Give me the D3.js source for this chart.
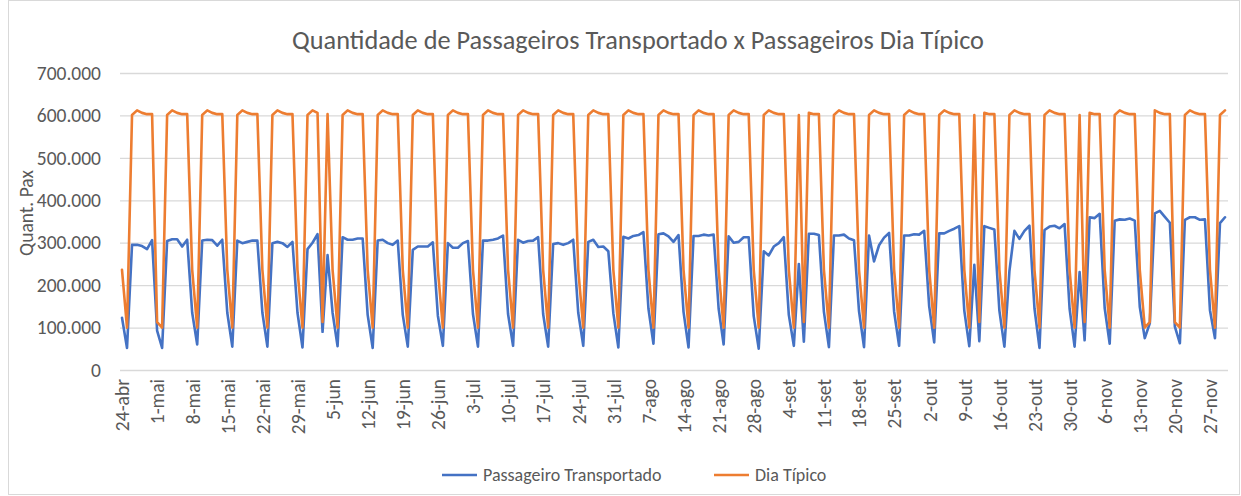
<!DOCTYPE html>
<html>
<head>
<meta charset="utf-8">
<script src="https://cdn.jsdelivr.net/npm/d3@7"></script>
<style>
  body { margin: 0; background: #fff; }
  text { font-family: Carlito, Lato, "Open Sans", sans-serif; fill: #595959; }
</style>
</head>
<body>
<div id="chart"></div>
<script>
// dias de 24-abr a 30-nov (221 pontos)
var startDay = Date.UTC(2021, 3, 24);
var dayCount = 221;

var tickLabels = ["24-abr","1-mai","8-mai","15-mai","22-mai","29-mai","5-jun","12-jun","19-jun","26-jun",
  "3-jul","10-jul","17-jul","24-jul","31-jul","7-ago","14-ago","21-ago","28-ago","4-set","11-set",
  "18-set","25-set","2-out","9-out","16-out","23-out","30-out","6-nov","13-nov","20-nov","27-nov"];
var yTicks = [0, 100000, 200000, 300000, 400000, 500000, 600000, 700000];

// Passageiro Transportado
var transportado = [
  123000, 52000,
  295000, 295000, 292000, 285000, 306000, 93000, 52000,
  304000, 308000, 308000, 291000, 307000, 135000, 60000,
  305000, 307000, 306000, 293000, 307000, 135000, 55000,
  305000, 299000, 302000, 305000, 305000, 135000, 55000,
  299000, 302000, 299000, 290000, 302000, 135000, 53000,
  285000, 300000, 320000, 90000, 271000, 135000, 56000,
  313000, 307000, 307000, 310000, 310000, 130000, 52000,
  305000, 307000, 299000, 295000, 305000, 130000, 55000,
  283000, 291000, 291000, 291000, 301000, 128000, 57000,
  299000, 288000, 288000, 299000, 304000, 132000, 55000,
  305000, 305000, 307000, 310000, 317000, 132000, 57000,
  307000, 300000, 304000, 305000, 313000, 132000, 55000,
  297000, 299000, 295000, 299000, 307000, 135000, 57000,
  302000, 307000, 290000, 291000, 280000, 134000, 53000,
  314000, 310000, 316000, 318000, 325000, 145000, 62000,
  320000, 322000, 315000, 302000, 318000, 137000, 53000,
  316000, 316000, 319000, 317000, 319000, 145000, 60000,
  315000, 300000, 302000, 313000, 313000, 127000, 50000,
  280000, 270000, 291000, 299000, 313000, 130000, 57000,
  250000, 67000, 321000, 321000, 318000, 137000, 54000,
  317000, 317000, 319000, 310000, 306000, 139000, 54000,
  317000, 256000, 294000, 312000, 323000, 138000, 57000,
  317000, 317000, 320000, 319000, 328000, 150000, 65000,
  322000, 322000, 328000, 333000, 339000, 140000, 56000,
  248000, 68000, 339000, 335000, 331000, 140000, 55000,
  233000, 328000, 309000, 328000, 340000, 145000, 52000,
  330000, 338000, 340000, 334000, 344000, 145000, 55000,
  231000, 70000, 360000, 358000, 368000, 146000, 62000,
  352000, 355000, 354000, 357000, 352000, 149000, 75000,
  110000, 369000, 375000, 361000, 347000, 102000, 63000,
  354000, 360000, 360000, 354000, 355000, 141000, 75000,
  346000, 360000
];

// Dia Típico
var diaTipico = [
  236000, 100000,
  601000, 612000, 606000, 603000, 603000, 113000, 100000,
  601000, 612000, 606000, 603000, 603000, 236000, 100000,
  601000, 612000, 606000, 603000, 603000, 236000, 100000,
  601000, 612000, 606000, 603000, 603000, 236000, 100000,
  601000, 612000, 606000, 603000, 603000, 236000, 100000,
  601000, 612000, 606000, 113000, 603000, 236000, 100000,
  601000, 612000, 606000, 603000, 603000, 236000, 100000,
  601000, 612000, 606000, 603000, 603000, 236000, 100000,
  601000, 612000, 606000, 603000, 603000, 236000, 100000,
  601000, 612000, 606000, 603000, 603000, 236000, 100000,
  601000, 612000, 606000, 603000, 603000, 236000, 100000,
  601000, 612000, 606000, 603000, 603000, 236000, 100000,
  601000, 612000, 606000, 603000, 603000, 236000, 100000,
  601000, 612000, 606000, 603000, 603000, 236000, 100000,
  601000, 612000, 606000, 603000, 603000, 236000, 100000,
  601000, 612000, 606000, 603000, 603000, 236000, 100000,
  601000, 612000, 606000, 603000, 603000, 236000, 100000,
  601000, 612000, 606000, 603000, 603000, 236000, 100000,
  601000, 612000, 606000, 603000, 603000, 236000, 100000,
  601000, 113000, 606000, 603000, 603000, 236000, 100000,
  601000, 612000, 606000, 603000, 603000, 236000, 100000,
  601000, 612000, 606000, 603000, 603000, 236000, 100000,
  601000, 612000, 606000, 603000, 603000, 236000, 100000,
  601000, 612000, 606000, 603000, 603000, 236000, 100000,
  601000, 113000, 606000, 603000, 603000, 236000, 100000,
  601000, 612000, 606000, 603000, 603000, 236000, 100000,
  601000, 612000, 606000, 603000, 603000, 236000, 100000,
  601000, 113000, 606000, 603000, 603000, 236000, 100000,
  601000, 612000, 606000, 603000, 603000, 236000, 100000,
  113000, 612000, 606000, 603000, 603000, 113000, 100000,
  601000, 612000, 606000, 603000, 603000, 236000, 100000,
  601000, 612000
];

var width = 1241, height = 496;
var blue = "#4472C4", orange = "#ED7D31", gridColor = "#d9d9d9";

var days = d3.range(dayCount).map(function(i){ return d3.utcDay.offset(new Date(startDay), i); });

var x = d3.scaleUtc()
  .domain([days[0], days[dayCount - 1]])
  .range([122, 1225]);
var y = d3.scaleLinear()
  .domain([0, 700000])
  .range([370, 73]);

var ptBR = d3.formatLocale({decimal: ",", thousands: ".", grouping: [3], currency: ["R$", ""]});
var fmt = ptBR.format(",.0f");

var svg = d3.select("#chart").append("svg")
  .attr("width", width)
  .attr("height", height);

svg.append("rect")
  .attr("x", 8.5).attr("y", 0.5)
  .attr("width", 1231).attr("height", 494)
  .attr("fill", "#fff")
  .attr("stroke", gridColor);

// titulo
var title = svg.append("text")
  .attr("x", 638).attr("y", 49)
  .attr("text-anchor", "middle")
  .style("font-size", "22px")
  .text("Quantidade de Passageiros Transportado x Passageiros Dia Típico");
var tw = title.node().getComputedTextLength();
title.style("font-size", (22 * 692 / tw) + "px");

// grade + eixo y
var yAxis = d3.axisLeft(y).tickValues(yTicks).tickSize(-(1228 - 120)).tickFormat(fmt);
var gy = svg.append("g").attr("transform", "translate(120,0)").call(yAxis);
gy.select(".domain").remove();
gy.selectAll(".tick line").attr("stroke", gridColor).attr("stroke-width", 1.3);
gy.selectAll(".tick text")
  .attr("x", -19)
  .style("font-size", "19.5px")
  .style("font-family", null)
  .attr("fill", "#404040");

svg.append("text")
  .attr("transform", "translate(33,213) rotate(-90)")
  .attr("text-anchor", "middle")
  .style("font-size", "19.5px")
  .attr("fill", "#404040")
  .text("Quant. Pax");

// eixo x
var tickDays = tickLabels.map(function(d, i){ return days[i * 7]; });
var xAxis = d3.axisBottom(x).tickValues(tickDays).tickSize(0)
  .tickFormat(function(d, i){ return tickLabels[i]; });
var gx = svg.append("g").attr("transform", "translate(0,370)").call(xAxis);
gx.select(".domain").remove();
gx.selectAll(".tick text")
  .attr("transform", "rotate(-90)")
  .attr("text-anchor", "end")
  .attr("x", -9)
  .attr("y", 0)
  .attr("dy", "0.35em")
  .style("font-size", "19.5px")
  .style("font-family", null)
  .attr("fill", "#404040");

// linhas
var line = d3.line()
  .x(function(d, i){ return x(days[i]); })
  .y(function(d){ return y(d); });

svg.append("path")
  .datum(transportado)
  .attr("d", line)
  .attr("fill", "none")
  .attr("stroke", blue)
  .attr("stroke-width", 2.6)
  .attr("stroke-linejoin", "round")
  .attr("stroke-linecap", "round");

svg.append("path")
  .datum(diaTipico)
  .attr("d", line)
  .attr("fill", "none")
  .attr("stroke", orange)
  .attr("stroke-width", 2.6)
  .attr("stroke-linejoin", "round")
  .attr("stroke-linecap", "round");

// legenda
var legend = [
  {name: "Passageiro Transportado", color: blue, x: 442},
  {name: "Dia Típico", color: orange, x: 714}
];
var lg = svg.append("g").selectAll("g").data(legend).enter().append("g")
  .attr("transform", function(d){ return "translate(" + d.x + ",475)"; });
lg.append("line")
  .attr("x1", 0).attr("x2", 35)
  .attr("stroke", function(d){ return d.color; })
  .attr("stroke-width", 2.6);
lg.append("text")
  .attr("x", 41).attr("dy", "0.35em")
  .style("font-size", "18px")
  .attr("fill", "#404040")
  .text(function(d){ return d.name; });
</script>
</body>
</html>
